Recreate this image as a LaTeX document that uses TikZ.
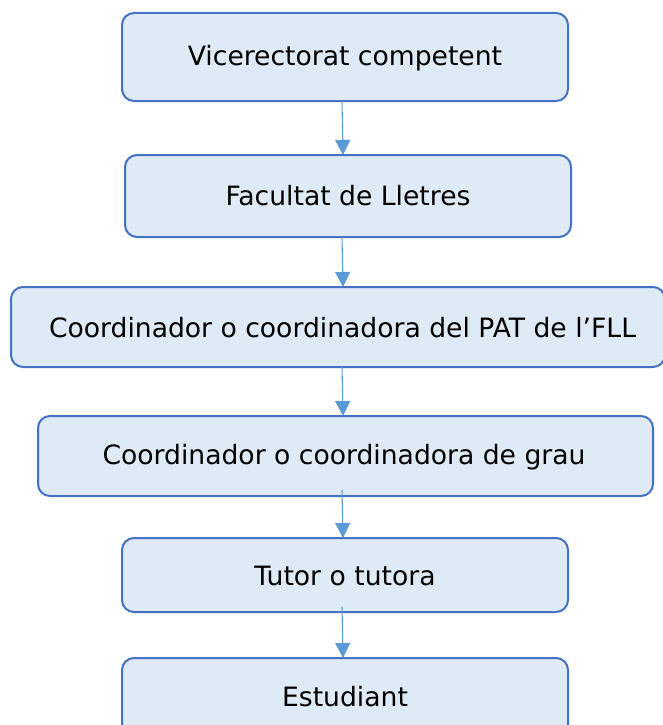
\documentclass[tikz,border=0pt]{standalone}
\usepackage{fontspec}
\setmainfont{DejaVu Sans}
\usetikzlibrary{arrows.meta}
\definecolor{boxfill}{HTML}{DEEAF6}
\definecolor{boxline}{HTML}{4472C4}
\definecolor{arrowcol}{HTML}{5B9BD5}
\begin{document}
\begin{tikzpicture}[x=1pt,y=-1pt,
  stage/.style={draw=boxline, fill=boxfill, line width=2pt, rounded corners=12pt},
  lbl/.style={font=\fontsize{26.6}{30}\selectfont, text=black},
  flow/.style={draw=arrowcol, line width=1.1pt, -{Triangle[length=15pt,width=15pt]}}]
\useasboundingbox (0,0) rectangle (662,725);
\node[stage, minimum width=446pt, minimum height=88pt] (b1) at (345,57) {};
\node[lbl] at (345,58) {Vicerectorat competent};
\node[stage, minimum width=446pt, minimum height=82pt] (b2) at (348,196) {};
\node[lbl] at (b2.center) {Facultat de Lletres};
\node[stage, minimum width=654pt, minimum height=80pt] (b3) at (338,327) {};
\node[lbl] at (342.5,328) {Coordinador o coordinadora del PAT de l’FLL};
\node[stage, minimum width=615pt, minimum height=80pt] (b4) at (345.5,456) {};
\node[lbl] at (344,457) {Coordinador o coordinadora de grau};
\node[stage, minimum width=446pt, minimum height=74pt] (b5) at (345,575) {};
\node[lbl] at (345,576) {Tutor o tutora};
\node[stage, minimum width=446pt, minimum height=80pt] (b6) at (345,698) {};
\node[lbl] at (345,697) {Estudiant};
\draw[flow] (342,101) -- (343,155);
\draw[flow] (342,237) -- (343,287);
\draw[flow] (342,367) -- (343,416);
\draw[flow] (342,490) -- (343,538);
\draw[flow] (342,607) -- (343,658);
\end{tikzpicture}
\end{document}
